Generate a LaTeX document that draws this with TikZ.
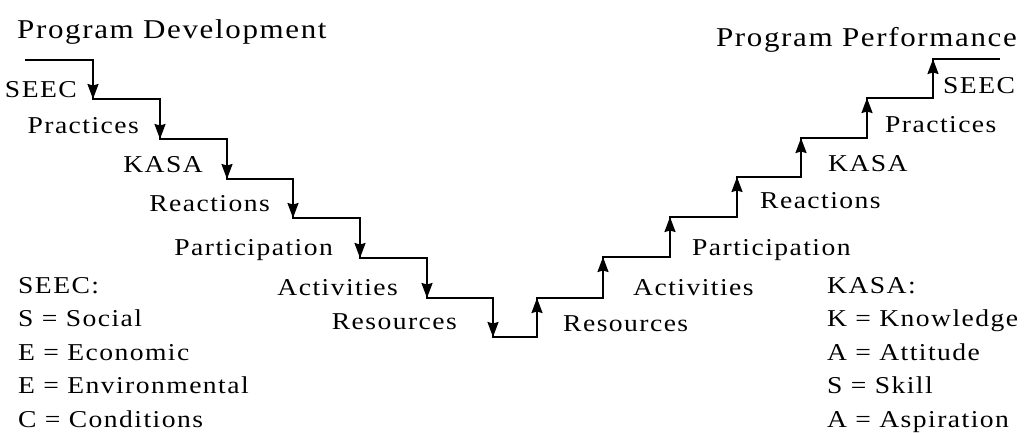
\documentclass[tikz,border=0pt]{standalone}
\usepackage{fontspec}
\setmainfont{Liberation Serif}[FakeStretch=1.14,LetterSpace=6]
\usetikzlibrary{arrows.meta,positioning}

\begin{document}
\begin{tikzpicture}[x=1pt,y=-1pt,>={Stealth[length=15pt,width=11pt,inset=1.5pt]}]

  \tikzstyle{stair}=[line width=1.8pt,line join=miter]
  \tikzstyle{lbl}=[inner sep=0pt,font=\fontsize{24.2}{29}\selectfont]
  \tikzstyle{ttl}=[inner sep=0pt,font=\fontsize{27.2}{32}\selectfont]

  \useasboundingbox (0,0) rectangle (1032,432);

  \begin{scope}

    % going down
    \coordinate (d0) at (25,60);
    \coordinate (d1) at (93,60);
    \coordinate (d2) at (93,99);
    \coordinate (d3) at (160,99);
    \coordinate (d4) at (160,139);
    \coordinate (d5) at (227,139);
    \coordinate (d6) at (227,179);
    \coordinate (d7) at (293,179);
    \coordinate (d8) at (293,218);
    \coordinate (d9) at (360,218);
    \coordinate (d10) at (360,258);
    \coordinate (d11) at (427,258);
    \coordinate (d12) at (427,298);
    \coordinate (d13) at (493,298);
    \coordinate (d14) at (493,337);

    % going up
    \coordinate (u0) at (537,337);
    \coordinate (u1) at (537,298);
    \coordinate (u2) at (603,298);
    \coordinate (u3) at (603,257);
    \coordinate (u4) at (670,257);
    \coordinate (u5) at (670,217);
    \coordinate (u6) at (737,217);
    \coordinate (u7) at (737,177);
    \coordinate (u8) at (801,177);
    \coordinate (u9) at (801,138);
    \coordinate (u10) at (867,138);
    \coordinate (u11) at (867,98);
    \coordinate (u12) at (933,98);
    \coordinate (u13) at (933,59);
    \coordinate (u14) at (1000,59);

    \draw [stair] (d0) -- (d1) -- (d2) -- (d3) -- (d4) -- (d5) -- (d6) -- (d7)
      -- (d8) -- (d9) -- (d10) -- (d11) -- (d12) -- (d13) -- (d14)
      -- (u0) -- (u1) -- (u2) -- (u3) -- (u4) -- (u5) -- (u6) -- (u7)
      -- (u8) -- (u9) -- (u10) -- (u11) -- (u12) -- (u13) -- (u14);

    \path [stair,->] (d1) edge (d2) (d3) edge (d4) (d5) edge (d6)
      (d7) edge (d8) (d9) edge (d10) (d11) edge (d12) (d13) edge (d14);
    \path [stair,->] (u0) edge (u1) (u2) edge (u3) (u4) edge (u5)
      (u6) edge (u7) (u8) edge (u9) (u10) edge (u11) (u12) edge (u13);

    % step labels
    \node [lbl,anchor=base east] (dseec) at (77,97) {SEEC};
    \node [lbl,anchor=base east] (dprac) at (139,133) {Practices};
    \node [lbl,anchor=base east] (dkasa) at (203,172) {KASA};
    \node [lbl,anchor=base east] (dreac) at (270,211) {Reactions};
    \node [lbl,anchor=base east] (dpart) at (333,255) {Participation};
    \node [lbl,anchor=base east] (dacti) at (398,295) {Activities};
    \node [lbl,anchor=base east] (dreso) at (457,329) {Resources};

    \node [lbl,anchor=base west] (ureso) at (563,331) {Resources};
    \node [lbl,anchor=base west] (uacti) at (633,295) {Activities};
    \node [lbl,anchor=base west] (upart) at (692,255) {Participation};
    \node [lbl,anchor=base west] (ureac) at (760,208) {Reactions};
    \node [lbl,anchor=base west] (ukasa) at (828,171) {KASA};
    \node [lbl,anchor=base west] (uprac) at (885,132) {Practices};
    \node [lbl,anchor=base west] (useec) at (943,93) {SEEC};

    \node [ttl,anchor=base west] (pdev) at (17,38) {Program Development};
    \node [ttl,anchor=base east] (pperf) at (1017,46) {Program Performance};

    % legends
    \node [lbl,anchor=base west] (s0) at (18,293) {SEEC:};
    \node [lbl,anchor=base west] (s1) at ([yshift=-33.5pt]s0.base west) {S = Social};
    \node [lbl,anchor=base west] (s2) at ([yshift=-33.5pt]s1.base west) {E = Economic};
    \node [lbl,anchor=base west] (s3) at ([yshift=-33.5pt]s2.base west) {E = Environmental};
    \node [lbl,anchor=base west] (s4) at ([yshift=-33.5pt]s3.base west) {C = Conditions};

    \node [lbl,anchor=base west] (k0) at (827,293) {KASA:};
    \node [lbl,anchor=base west] (k1) at ([yshift=-33.5pt]k0.base west) {K = Knowledge};
    \node [lbl,anchor=base west] (k2) at ([yshift=-33.5pt]k1.base west) {A = Attitude};
    \node [lbl,anchor=base west] (k3) at ([yshift=-33.5pt]k2.base west) {S = Skill};
    \node [lbl,anchor=base west] (k4) at ([yshift=-33.5pt]k3.base west) {A = Aspiration};

  \end{scope}

\end{tikzpicture}
\end{document}
